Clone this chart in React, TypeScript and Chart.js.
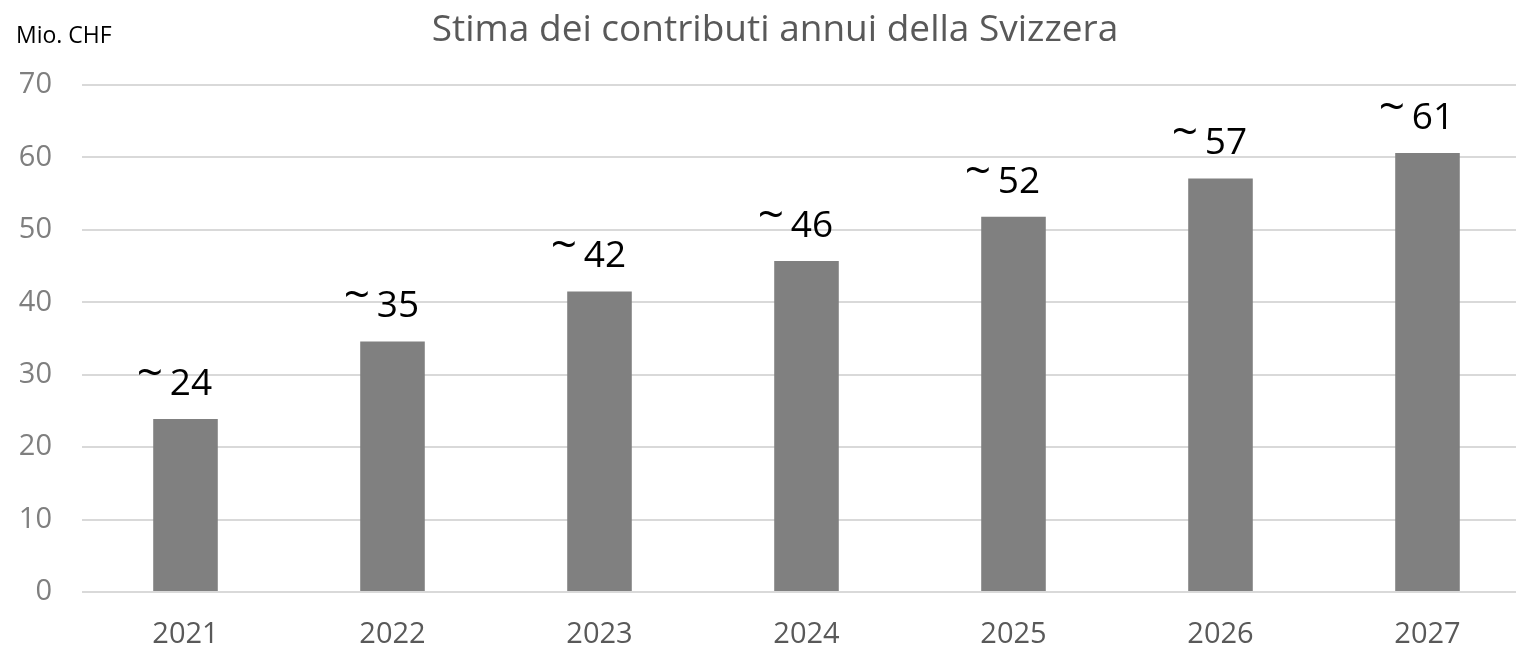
import React, { useEffect, useRef } from "react";
import { Chart, registerables } from "chart.js";

Chart.register(...registerables);

const title = "Stima dei contributi annui della Svizzera";
const unitLabel = "Mio. CHF";
const years = ["2021", "2022", "2023", "2024", "2025", "2026", "2027"];
const values = [23.9, 34.6, 41.5, 45.7, 51.8, 57.1, 60.6];
const valueLabels = ["24", "35", "42", "46", "52", "57", "61"];
const approxSign = "~";
const yTicks = [0, 10, 20, 30, 40, 50, 60, 70];

const FONT = "'Open Sans', 'Noto Sans', sans-serif";

const overlayPlugin = {
  id: "overlay",
  afterDatasetsDraw(chart: any) {
    const ctx = chart.ctx;
    ctx.save();
    // title
    ctx.fillStyle = "#595959";
    ctx.font = `37px ${FONT}`;
    ctx.textAlign = "center";
    ctx.textBaseline = "alphabetic";
    ctx.fillText(title, 775, 41);
    // unit label
    ctx.fillStyle = "#000000";
    ctx.font = `23px ${FONT}`;
    ctx.textAlign = "left";
    ctx.fillText(unitLabel, 16, 43);
    // value labels
    const meta = chart.getDatasetMeta(0);
    ctx.font = `37px ${FONT}`;
    const digitAsc = ctx.measureText("0").actualBoundingBoxAscent;
    const digitFont = ctx.font;
    ctx.font = `46px ${FONT}`;
    const tm = ctx.measureText(approxSign);
    const tildeFont = ctx.font;
    const tildeW = tm.actualBoundingBoxRight + tm.actualBoundingBoxLeft;
    const gap = 9;
    ctx.textAlign = "left";
    meta.data.forEach((bar: any, i: number) => {
      const txt = valueLabels[i];
      ctx.font = digitFont;
      const dw = ctx.measureText(txt).width;
      const total = tildeW + gap + dw;
      const cx = bar.x - 10;
      const left = cx - total / 2;
      const baseline = bar.y - 24;
      ctx.fillStyle = "#000000";
      ctx.fillText(txt, left + tildeW + gap, baseline);
      ctx.font = tildeFont;
      ctx.fillText(
        approxSign,
        left + tm.actualBoundingBoxLeft,
        baseline - digitAsc + tm.actualBoundingBoxAscent
      );
    });
    ctx.restore();
  },
};

export default function App() {
  const ref = useRef<HTMLCanvasElement | null>(null);
  useEffect(() => {
    document.body.style.overflow = "hidden";
    const canvas = ref.current!;
    const chart = new Chart(canvas, {
      type: "bar",
      data: {
        labels: years,
        datasets: [
          {
            data: values,
            backgroundColor: "#808080",
            borderWidth: 0,
            categoryPercentage: 0.312,
            barPercentage: 1,
          },
        ],
      },
      options: {
        responsive: false,
        animation: false,
        devicePixelRatio: 1,
        layout: { padding: { top: 85, right: 9, left: 0, bottom: 0 } },
        plugins: {
          legend: { display: false },
          title: { display: false },
          tooltip: { enabled: false },
        },
        scales: {
          x: {
            grid: { display: false, drawTicks: false },
            border: { display: false },
            ticks: {
              color: "#595959",
              font: { family: FONT, size: 29 },
              padding: 25,
              maxRotation: 0,
            },
            afterFit: (s: any) => {
              s.height = 54;
            },
          },
          y: {
            min: 0,
            max: 70,
            afterBuildTicks: (s: any) => {
              s.ticks = yTicks.map((v) => ({ value: v }));
            },
            grid: { color: "#d9d9d9", lineWidth: 2, drawTicks: false },
            border: { display: false },
            ticks: {
              color: "#7f7f7f",
              font: { family: FONT, size: 29 },
              padding: 30,
            },
            afterFit: (s: any) => {
              s.width = 82;
            },
          },
        },
      },
      plugins: [overlayPlugin],
    });
    return () => chart.destroy();
  }, []);
  return (
    <div style={{ position: "fixed", left: 0, top: 0, width: 1540, height: 646, background: "#fff" }}>
      <canvas ref={ref} width={1540} height={646} style={{ width: 1540, height: 646, display: "block" }} />
    </div>
  );
}
